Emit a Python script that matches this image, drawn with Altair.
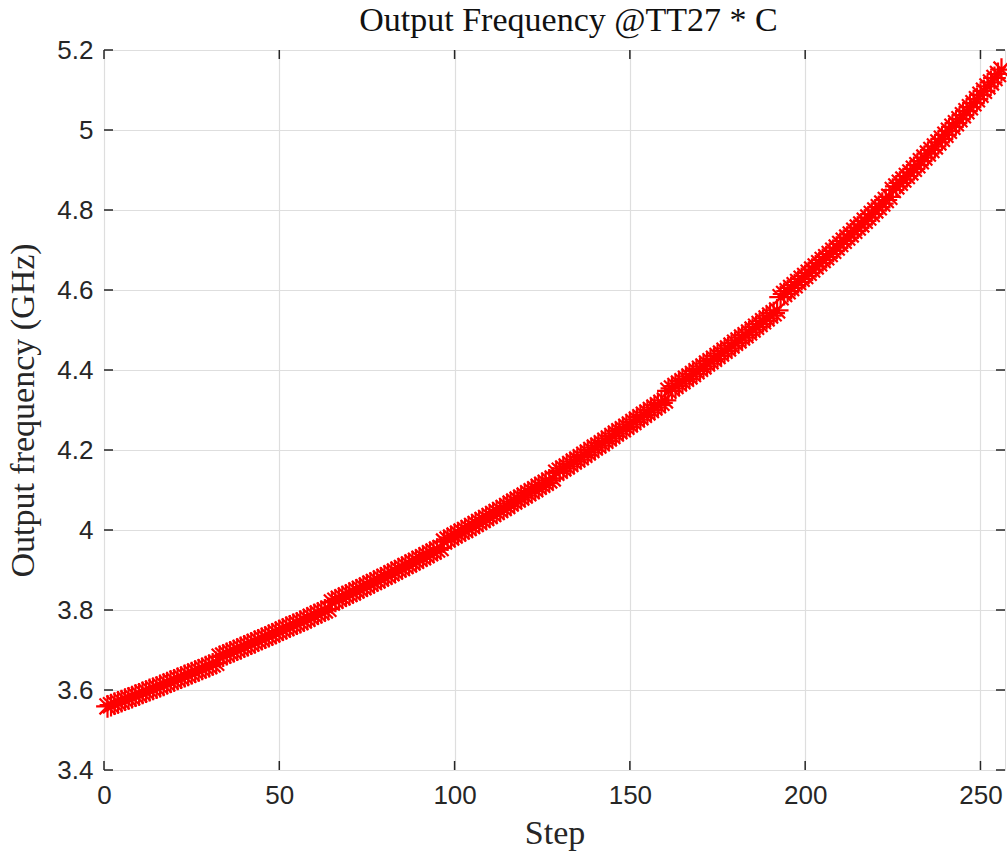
import altair as alt
import pandas as pd

# Oscillator code sweep: step index and measured output frequency (GHz)
steps = list(range(1, 257))
freq_ghz = [
    3.559, 3.562, 3.566, 3.569, 3.572, 3.576, 3.579, 3.582, 3.586, 3.589, 3.593, 3.596, 3.600, 3.603, 3.606, 3.610,
    3.613, 3.617, 3.621, 3.624, 3.628, 3.631, 3.635, 3.638, 3.642, 3.646, 3.649, 3.653, 3.657, 3.660, 3.664, 3.668,
    3.683, 3.686, 3.690, 3.694, 3.697, 3.701, 3.705, 3.709, 3.712, 3.716, 3.720, 3.724, 3.728, 3.731, 3.735, 3.739,
    3.743, 3.747, 3.751, 3.755, 3.759, 3.763, 3.766, 3.770, 3.774, 3.778, 3.783, 3.787, 3.791, 3.795, 3.799, 3.803,
    3.819, 3.823, 3.828, 3.832, 3.836, 3.840, 3.844, 3.849, 3.853, 3.857, 3.861, 3.866, 3.870, 3.874, 3.879, 3.883,
    3.887, 3.892, 3.896, 3.901, 3.905, 3.910, 3.914, 3.919, 3.923, 3.928, 3.932, 3.937, 3.942, 3.946, 3.951, 3.955,
    3.971, 3.976, 3.981, 3.986, 3.991, 3.996, 4.000, 4.005, 4.010, 4.015, 4.020, 4.025, 4.030, 4.035, 4.040, 4.045,
    4.050, 4.055, 4.060, 4.066, 4.071, 4.076, 4.081, 4.086, 4.092, 4.097, 4.102, 4.108, 4.113, 4.118, 4.124, 4.129,
    4.143, 4.148, 4.154, 4.159, 4.165, 4.171, 4.176, 4.182, 4.188, 4.194, 4.200, 4.206, 4.211, 4.217, 4.223, 4.229,
    4.235, 4.241, 4.247, 4.252, 4.258, 4.264, 4.270, 4.276, 4.282, 4.288, 4.294, 4.300, 4.306, 4.312, 4.318, 4.324,
    4.348, 4.354, 4.360, 4.366, 4.372, 4.378, 4.384, 4.390, 4.397, 4.403, 4.409, 4.416, 4.422, 4.428, 4.435, 4.441,
    4.448, 4.454, 4.461, 4.468, 4.474, 4.481, 4.487, 4.494, 4.501, 4.508, 4.515, 4.522, 4.529, 4.536, 4.542, 4.549,
    4.582, 4.590, 4.597, 4.605, 4.612, 4.620, 4.628, 4.635, 4.643, 4.651, 4.659, 4.667, 4.675, 4.682, 4.690, 4.698,
    4.706, 4.715, 4.723, 4.731, 4.739, 4.748, 4.756, 4.764, 4.773, 4.781, 4.790, 4.799, 4.807, 4.816, 4.825, 4.833,
    4.850, 4.859, 4.868, 4.876, 4.885, 4.894, 4.903, 4.912, 4.922, 4.931, 4.941, 4.950, 4.959, 4.969, 4.978, 4.988,
    4.998, 5.008, 5.017, 5.027, 5.037, 5.047, 5.057, 5.067, 5.077, 5.088, 5.098, 5.109, 5.119, 5.130, 5.140, 5.151,
]

x_ticks = [0, 50, 100, 150, 200, 250]
y_ticks = [3.4, 3.6, 3.8, 4.0, 4.2, 4.4, 4.6, 4.8, 5.0, 5.2]
x_domain = [0, 257]
y_domain = [3.4, 5.2]
title_text = ["Output Frequency @TT27 * C"]

W, H = 901, 720
INK = "#262626"
GRID = "#dedede"
TICK_LEN = 9
SERIF = "Liberation Serif"
SANS = "Liberation Sans"

# asterisk marker: plus and cross overlaid
ASTERISK = "M-1,0L1,0M0,-1L0,1M-0.7,-0.7L0.7,0.7M-0.7,0.7L0.7,-0.7"

df = pd.DataFrame({"step": steps, "freq": freq_ghz})
# tick positions share the field names of the main layer so the axes merge
xt = pd.DataFrame({"step": x_ticks})
yt = pd.DataFrame({"freq": y_ticks})

x_scale = alt.Scale(domain=x_domain, nice=False, zero=False)
y_scale = alt.Scale(domain=y_domain, nice=False, zero=False)

x_axis = alt.Axis(
    values=x_ticks, format="d", grid=True, gridColor=GRID, gridWidth=1.2,
    domain=False, ticks=False, labelFlush=False, labelFont=SANS, labelFontSize=26,
    labelColor=INK, labelPadding=12, title="Step", titleFont=SERIF, titleFontSize=34,
    titleFontWeight="normal", titleColor=INK, titleBaseline="alphabetic",
    titleY=73, titleX=W / 2, titleAlign="center",
)
y_axis = alt.Axis(
    values=y_ticks, format=".1~f", grid=True, gridColor=GRID, gridWidth=1.2,
    domain=False, ticks=False, labelFlush=False, labelFont=SANS, labelFontSize=26,
    labelColor=INK, labelPadding=11, title="Output frequency (GHz)", titleFont=SERIF,
    titleFontSize=34, titleFontWeight="normal", titleColor=INK,
    titleAngle=270, titleBaseline="alphabetic", titleAlign="center",
    titleX=-71, titleY=H / 2,
)

points = alt.Chart(df).mark_point(
    shape=ASTERISK, filled=False, stroke="#ff0000", strokeWidth=2.2, size=520, opacity=1
).encode(
    x=alt.X("step:Q", scale=x_scale, axis=x_axis),
    y=alt.Y("freq:Q", scale=y_scale, axis=y_axis),
)

# inward tick marks on all four sides of the box
tick_style = dict(color=INK, strokeWidth=1.5)
bottom_ticks = alt.Chart(xt).mark_rule(**tick_style).encode(
    x=alt.X("step:Q", scale=x_scale, axis=x_axis), y=alt.value(H), y2=alt.value(H - TICK_LEN))
top_ticks = alt.Chart(xt).mark_rule(**tick_style).encode(
    x=alt.X("step:Q", scale=x_scale, axis=x_axis), y=alt.value(0), y2=alt.value(TICK_LEN))
left_ticks = alt.Chart(yt).mark_rule(**tick_style).encode(
    y=alt.Y("freq:Q", scale=y_scale, axis=y_axis), x=alt.value(0), x2=alt.value(TICK_LEN))
right_ticks = alt.Chart(yt).mark_rule(**tick_style).encode(
    y=alt.Y("freq:Q", scale=y_scale, axis=y_axis), x=alt.value(W), x2=alt.value(W - TICK_LEN))

# chart title, centred above the box
title = alt.Chart(pd.DataFrame({"label": title_text})).mark_text(
    font=SERIF, fontSize=34, color="#111111", align="center", baseline="alphabetic"
).encode(x=alt.value(W / 2 + 14), y=alt.value(-19), text="label:N")

chart = alt.layer(points, bottom_ticks, top_ticks, left_ticks, right_ticks, title).properties(
    width=W,
    height=H,
    autosize=alt.AutoSizeParams(type="none"),
    padding={"left": 104, "top": 50, "right": 2, "bottom": 83},
).configure_view(
    stroke=INK, strokeWidth=1.5
).configure(background="white")

chart.save("out.html", embed_options={"renderer": "svg", "actions": False})
